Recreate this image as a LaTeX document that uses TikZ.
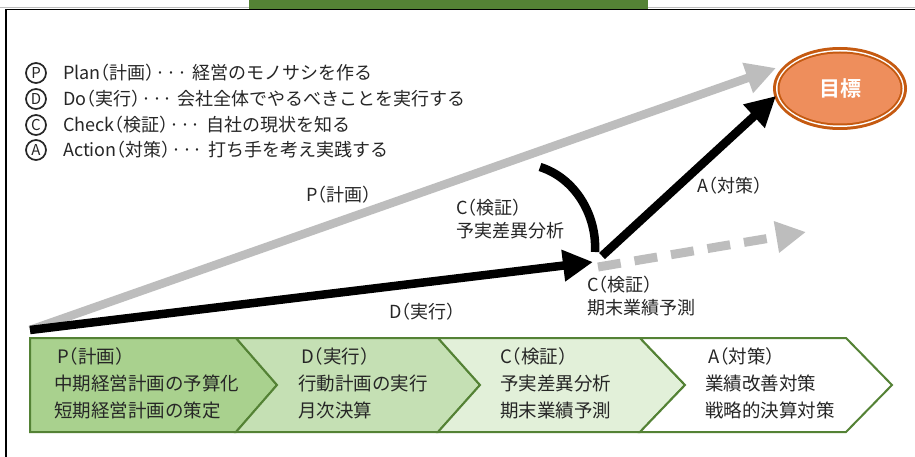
\documentclass[tikz,border=0pt]{standalone}
\usepackage{fontspec}
\setmainfont{Noto Sans CJK JP}[RawFeature={+halt}]
\newfontfamily\jpbold{Noto Sans CJK JP Bold}
\usetikzlibrary{arrows.meta}
\definecolor{grn}{HTML}{548235}
\definecolor{chA}{HTML}{A9D18E}
\definecolor{chB}{HTML}{C5E0B4}
\definecolor{chC}{HTML}{E2F0D9}
\definecolor{lgray}{HTML}{BDBDBD}
\definecolor{orgdark}{HTML}{C55A11}
\definecolor{orgfill}{HTML}{EE8E5C}
\definecolor{txt}{HTML}{262626}
\newcommand{\mdots}{\hspace{1pt}·\hspace{0.5pt}·\hspace{0.5pt}·\hspace{1pt}}
\tikzset{
  lbl/.style={anchor=west, inner sep=0pt, text=txt, font=\fontsize{18}{23}\selectfont, align=left},
  circ/.style={circle, draw=txt, line width=1.7pt, minimum size=20pt, inner sep=0pt, text=txt, font=\fontsize{15}{15}\selectfont},
  chev/.style={draw=grn, line width=2pt, line join=miter},
  bigarrow/.style={line width=8.5pt, -{Triangle[length=30pt,width=30pt]}},
}
\begin{document}
\begin{tikzpicture}[x=1pt,y=-1pt]
\useasboundingbox (0,0) rectangle (915,457);
\fill[white] (0,0) rectangle (915,457);
% frame
\draw[lgray, line width=1.2pt] (0,7.5) -- (915,7.5);
\fill[grn] (249,0) rectangle (648,9);
\draw[black, line width=1.8pt] (6,457) -- (6,9.5) -- (915,9.5);

% legend
\foreach \y/\c/\t in {73/P/{Plan（計画）\mdots{} 経営のモノサシを作る},
                     99/D/{Do（実行）\mdots{} 会社全体でやるべきことを実行する},
                     125/C/{Check（検証）\mdots{} 自社の現状を知る},
                     150/A/{Action（対策）\mdots{} 打ち手を考え実践する}}{
  \node[circ] (c\y) at (36,\y) {\c};
  \node[lbl] (t\y) at (63,\y) {\t};
}

% goal ellipse
\fill[orgdark] (840,88.5) ellipse [x radius=67, y radius=41.5];
\fill[white] (840,88.5) ellipse [x radius=64, y radius=38.5];
\fill[orgdark] (840,88.5) ellipse [x radius=62.5, y radius=37];
\fill[orgfill] (840,88.5) ellipse [x radius=60.5, y radius=35];
\node[text=white, font=\jpbold\fontsize{21}{21}\selectfont, inner sep=0pt] (goal) at (840,89) {目標};

% coordinates
\coordinate (O) at (30,330);
\coordinate (Ptip) at (776,68);
\coordinate (Dtip) at (593,262);
\coordinate (Astart) at (602,256);
\coordinate (Atip) at (776,96);
\coordinate (Cstart) at (540,167);
\coordinate (Cend) at (595,252);
\coordinate (Estart) at (598,267);
\coordinate (Etip) at (806,232);

% arrows
\draw[bigarrow, lgray] (O) -- (Ptip);
\draw[bigarrow, black] (O) -- (Dtip);
\draw[black, line width=8.5pt] (Cstart) .. controls (575,178) and (597,215) .. (Cend);
\draw[bigarrow, black] (Astart) -- (Atip);
\draw[lgray, line width=9pt, dash pattern=on 23pt off 14pt, -{Triangle[length=30pt,width=30pt]}] (Estart) -- (Etip);

% labels on graph
\node[lbl] (lp) at (306,195) {P（計画）};
\node[lbl] (lc1) at (456,219) {C（検証）\\予実差異分析};
\node[lbl] (la) at (697,186) {A（対策）};
\node[lbl] (lc2) at (587,296) {C（検証）\\期末業績予測};
\node[lbl] (ld) at (389,312) {D（実行）};

% chevrons
\draw[chev, fill=chA] (30,338) -- (236,338) -- (277,385) -- (236,432) -- (30,432) -- cycle;
\draw[chev, fill=chB] (236,338) -- (438,338) -- (480,385) -- (438,432) -- (236,432) -- (277,385) -- cycle;
\draw[chev, fill=chC] (438,338) -- (640,338) -- (685,385) -- (640,432) -- (438,432) -- (480,385) -- cycle;
\draw[chev, fill=white] (640,338) -- (846,338) -- (892,385) -- (846,432) -- (640,432) -- (685,385) -- cycle;

\tikzset{chtxt/.style={lbl, font=\fontsize{18.5}{27}\selectfont}}
\node[chtxt] (s1) at (54,383) {\,P（計画）\\中期経営計画の予算化\\短期経営計画の策定};
\node[chtxt] (s2) at (298,383) {\,D（実行）\\行動計画の実行\\月次決算};
\node[chtxt] (s3) at (500,383) {C（検証）\\予実差異分析\\期末業績予測};
\node[chtxt] (s4) at (705,383) {\,A（対策）\\業績改善対策\\戦略的決算対策};
\end{tikzpicture}
\end{document}
